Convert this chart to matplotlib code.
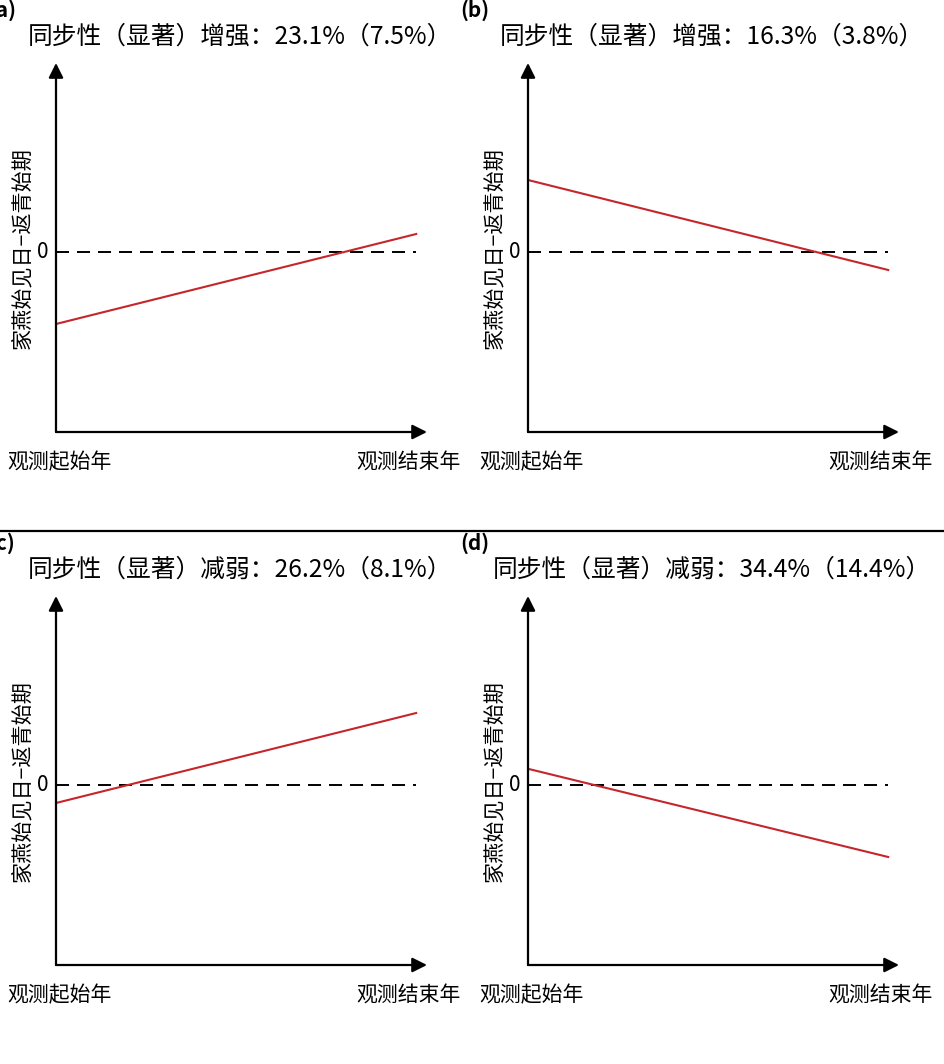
import matplotlib
matplotlib.use("Agg")
import matplotlib.pyplot as plt
from matplotlib.lines import Line2D

plt.rcParams['font.family'] = ['Noto Sans CJK SC', 'DejaVu Sans']

# data: relative position of the fitted trend (0 = start year, 1 = end year)
panel_tags = ['(a)', '(b)', '(c)', '(d)']
titles = ['同步性（显著）增强：23.1%（7.5%）',
          '同步性（显著）增强：16.3%（3.8%）',
          '同步性（显著）减弱：26.2%（8.1%）',
          '同步性（显著）减弱：34.4%（14.4%）']
trend_x = [0, 1]
trend_start = [-0.8, 0.8, -0.2, 0.18]
trend_end = [0.2, -0.2, 0.8, -0.8]
ylabel = '家燕始见日−返青始期'
xlabel_left = '观测起始年'
xlabel_right = '观测结束年'

W, H = 945, 1064
fig = plt.figure(figsize=(W / 100, H / 100), dpi=100)


def fx(x):
    return x / W


def fy(y):
    return 1 - y / H


# pixel origin of each panel (y-axis x position, x-axis y position)
origins = [(56, 432), (528, 432), (56, 965), (528, 965)]
ax_w, ax_h = 371, 369
xmax, ymin, ymax = 1.03, -2.0, 2.1

for i in range(4):
    ox, oy = origins[i]
    ax = fig.add_axes([fx(ox), fy(oy), ax_w / W, ax_h / H])
    ax.set_xlim(0, xmax)
    ax.set_ylim(ymin, ymax)
    ax.axis('off')

    # arrows for axes
    ax.annotate('', xy=(xmax, ymin), xytext=(0, ymin),
                arrowprops=dict(arrowstyle='-|>', lw=1.6, color='black',
                                mutation_scale=22, shrinkA=0, shrinkB=0),
                annotation_clip=False)
    ax.annotate('', xy=(0, ymax), xytext=(0, ymin),
                arrowprops=dict(arrowstyle='-|>', lw=1.6, color='black',
                                mutation_scale=22, shrinkA=0, shrinkB=0),
                annotation_clip=False)

    # zero line
    ax.plot([0, 1], [0, 0], color='black', lw=1.4, dashes=(6.7, 4.1))
    # trend line
    ax.plot(trend_x, [trend_start[i], trend_end[i]], color='#c4262b', lw=1.5)

    ax.text(-0.02, 0, '0', ha='right', va='center', fontsize=15)

    top = oy - 432 + 37
    fig.text(fx(ox + 184), fy(top), titles[i], ha='center', va='center', fontsize=17.8)
    fig.text(fx(ox - 34), fy(oy - 184), ylabel, ha='center', va='center',
             rotation=90, fontsize=15.2)
    fig.text(fx(ox - 49), fy(oy + 30), xlabel_left, ha='left', va='center', fontsize=15)
    fig.text(fx(ox + 405), fy(oy + 30), xlabel_right, ha='right', va='center', fontsize=15)
    fig.text(fx(ox - 68), fy(oy - 422), panel_tags[i], ha='left', va='center',
             fontsize=15, fontweight='bold')

# separator between rows
fig.add_artist(Line2D([0, 1], [fy(531), fy(531)], color='black', lw=1.6))

fig.savefig('out.png', dpi=100)
